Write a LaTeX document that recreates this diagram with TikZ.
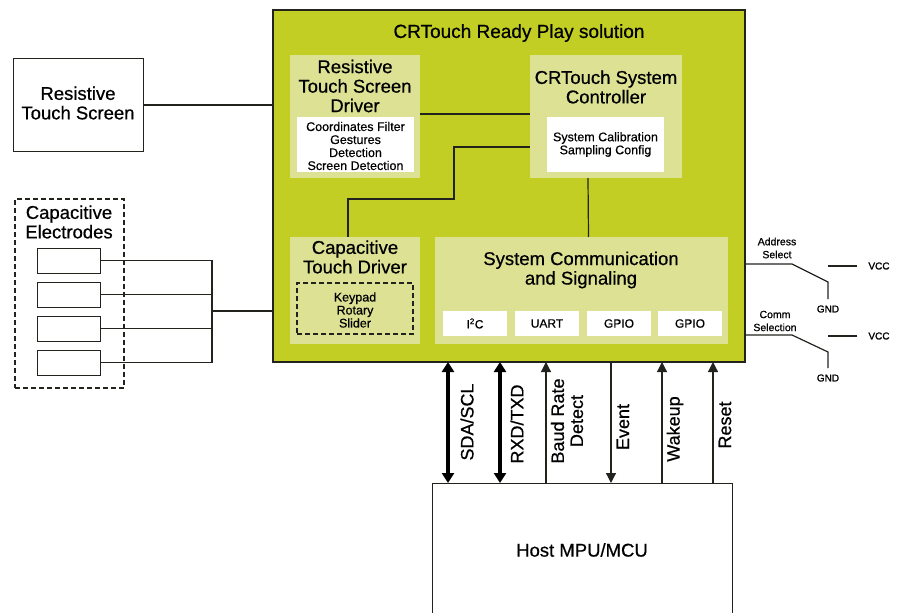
\documentclass[tikz,border=0pt]{standalone}
\usepackage{fontspec}
\setmainfont{Liberation Sans}[FakeBold=0.6]
\newfontfamily\labfont{Liberation Sans}[FakeBold=0.6]
\newfontfamily\pinfont{Liberation Sans}[FakeBold=1.4]
\usetikzlibrary{arrows.meta,calc}
\definecolor{mainG}{RGB}{194,206,35}
\definecolor{lightG}{RGB}{221,225,148}
\definecolor{edge}{RGB}{35,35,30}
\begin{document}
\begin{tikzpicture}[x=1pt,y=-1pt,
  blk/.style={anchor=north west,inner sep=0pt,outer sep=0pt},
  outerbox/.style={blk,draw=edge,line width=1pt,fill=white},
  lightbox/.style={blk,fill=lightG},
  whitebox/.style={blk,fill=white},
  dashbox/.style={blk,draw=edge,line width=2.4pt,dash pattern=on 5pt off 3pt},
  head/.style={align=center,inner sep=0pt,font=\labfont\fontsize{18.5}{19.5}\selectfont},
  small/.style={align=center,inner sep=0pt,font=\labfont\fontsize{12.5}{13}\selectfont},
  tiny/.style={align=center,inner sep=0pt,font=\labfont\fontsize{10.5}{13}\selectfont},
  pin/.style={inner sep=0pt,font=\pinfont\fontsize{10}{12}\selectfont},
  siglabel/.style={rotate=90,align=center,inner sep=0pt,font=\labfont\fontsize{18}{19}\selectfont},
  wire/.style={draw=edge,line width=1.2pt},
  thinarrow/.style={draw=edge,line width=1.2pt,-{Triangle[width=10pt,length=10pt]}},
  thickarrow/.style={draw=black,line width=4pt,{Triangle[width=12pt,length=10pt]}-{Triangle[width=12pt,length=10pt]}}
]
\useasboundingbox (0,0) rectangle (908,613);

% main box
\node[blk,draw=edge,line width=1.6pt,fill=mainG,minimum width=472,minimum height=352] (main) at (273,10) {};
\node[head,font=\labfont\fontsize{19}{20}\selectfont] (title) at (519,33) {CRTouch Ready Play solution};

% resistive touch screen driver
\node[lightbox,minimum width=130,minimum height=123] (rtsd) at (290,55) {};
\node[head] (rtsdT) at (355,86) {Resistive\\Touch Screen\\Driver};
\node[whitebox,minimum width=117,minimum height=55] (rtsdW) at (297,117) {};
\node[small] (rtsdWT) at (355.5,146) {Coordinates Filter\\Gestures\\Detection\\Screen Detection};

% controller
\node[lightbox,minimum width=152,minimum height=123] (ctrl) at (530,55) {};
\node[head] (ctrlT) at (606,87) {CRTouch System\\Controller};
\node[whitebox,minimum width=117,minimum height=55] (ctrlW) at (547,117) {};
\node[small] (ctrlWT) at (605.5,144.5) {System Calibration\\Sampling Config};

% capacitive touch driver
\node[lightbox,minimum width=130,minimum height=107] (ctd) at (290,237) {};
\node[head] (ctdT) at (355,257) {Capacitive\\Touch Driver};
\node[dashbox,minimum width=116,minimum height=51] (ctdD) at (297,283) {};
\node[small] (ctdDT) at (355,310) {Keypad\\Rotary\\Slider};

% system communication
\node[lightbox,minimum width=293,minimum height=107] (sc) at (435,237) {};
\node[head] (scT) at (581,270) {System Communication\\and Signaling};
\node[whitebox,minimum width=64,minimum height=25] (i2c) at (443,311) {};
\node[whitebox,minimum width=64,minimum height=25] (uart) at (515,311) {};
\node[whitebox,minimum width=64,minimum height=25] (gpio1) at (587,311) {};
\node[whitebox,minimum width=64,minimum height=25] (gpio2) at (658,311) {};
\node[small,font=\labfont\fontsize{12}{13}\selectfont] (i2cT) at (i2c) {I\textsuperscript{2}C};
\node[small,font=\labfont\fontsize{12}{13}\selectfont] (uartT) at (uart) {UART};
\node[small,font=\labfont\fontsize{12}{13}\selectfont] (gpio1T) at (gpio1) {GPIO};
\node[small,font=\labfont\fontsize{12}{13}\selectfont] (gpio2T) at (gpio2) {GPIO};

% internal wiring
\draw[wire] ($(rtsd.north east)+(0,59)$) -- ($(ctrl.north west)+(0,59)$);
\draw[wire] ($(ctrl.north west)+(0,92)$) -- ++(-76,0) |- ($(ctd.north)+(-7,-38)$) -- ($(ctd.north)+(-7,0)$);
\draw[wire] ($(ctrl.south)+(-18,0)$) -- ($(sc.north)+(7,0)$);

% resistive touch screen
\node[outerbox,minimum width=130,minimum height=93] (rts) at (13,58) {};
\node[head] (rtsT) at (78,103) {Resistive\\Touch Screen};
\draw[wire] (rts.east |- 0,105) -- (main.west |- 0,105);

% capacitive electrodes
\node[dashbox,minimum width=109,minimum height=189] (ce) at (15,199) {};
\node[head] (ceT) at (69,222) {Capacitive\\Electrodes};
\foreach \i/\yy in {1/248,2/282,3/316,4/350}{
  \node[outerbox,minimum width=63,minimum height=25] (e\i) at (37,\yy) {};
}
\coordinate (junc) at (212,311);
\foreach \i in {1,2,3,4}{
  \draw[wire] (e\i.east) -| (junc);
}
\draw[wire] (junc) -- (junc -| main.west);

% right side switches
\coordinate (asel) at ($(main.north east)+(0,254)$);
\draw[wire] (asel) -- ++(47,0) -- ++(36,18) -- ++(0,17);
\node[tiny] (aselT) at (777,248) {Address\\Select};
\node[pin] (gnd1) at (828,309) {GND};
\node[pin] (vcc1) at (879,266) {VCC};
\draw[wire] ($(vcc1.west)+(-11,0)$) -- ++(-29,0);

\coordinate (csel) at ($(main.north east)+(0,325)$);
\draw[wire] (csel) -- ++(47,0) -- ++(36,17) -- ++(0,16);
\node[tiny] (cselT) at (775,321) {Comm\\Selection};
\node[pin] (gnd2) at (828,378) {GND};
\node[pin] (vcc2) at (879,336) {VCC};
\draw[wire] ($(vcc2.west)+(-11,0)$) -- ++(-29,0);

% host
\node[outerbox,minimum width=300,minimum height=134,font=\labfont\fontsize{18.5}{19.5}\selectfont] (host) at (432,483) {Host MPU/MCU};

% signals
\coordinate (s1) at (448,0);
\coordinate (s2) at (500,0);
\coordinate (s3) at (546,0);
\coordinate (s4) at (611,0);
\coordinate (s5) at (662,0);
\coordinate (s6) at (713,0);
\draw[thickarrow] (s1 |- main.south) -- (s1 |- host.north);
\draw[thickarrow] (s2 |- main.south) -- (s2 |- host.north);
\draw[thinarrow] (s3 |- host.north) -- (s3 |- main.south);
\draw[thinarrow] (s4 |- main.south) -- (s4 |- host.north);
\draw[thinarrow] (s5 |- host.north) -- (s5 |- main.south);
\draw[thinarrow] (s6 |- host.north) -- (s6 |- main.south);
\node[siglabel] (l1) at (467,422) {SDA/SCL};
\node[siglabel] (l2) at (517,424) {RXD/TXD};
\node[siglabel] (l3) at (567,421) {Baud Rate\\Detect};
\node[siglabel] (l4) at (623,427) {Event};
\node[siglabel] (l5) at (675,429) {Wakeup};
\node[siglabel] (l6) at (725,425) {Reset};
\end{tikzpicture}
\end{document}
